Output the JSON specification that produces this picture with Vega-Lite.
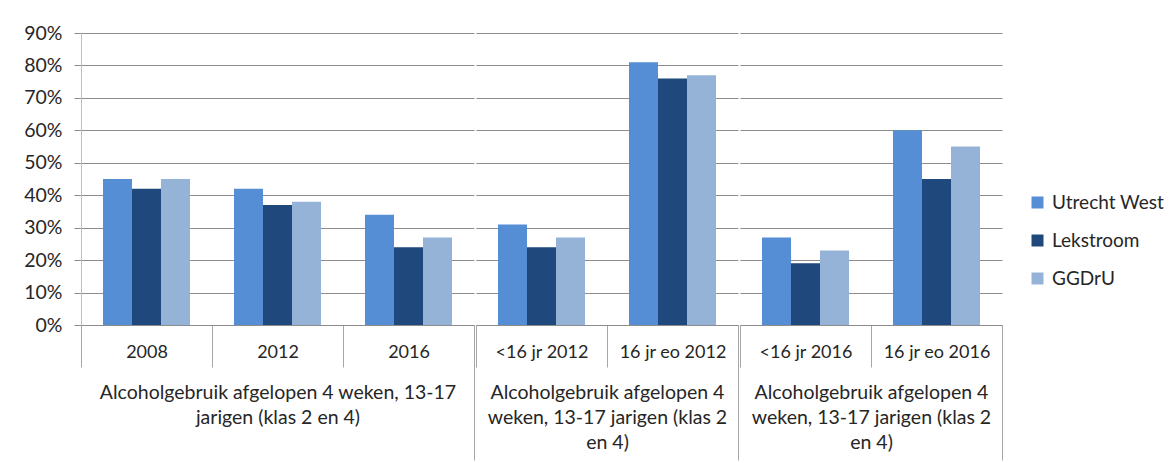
{
  "$schema": "https://vega.github.io/schema/vega-lite/v6.json",
  "padding": {"left": 23, "top": 23, "right": 0, "bottom": 0},
  "background": "white",
  "datasets": {
    "d": [
      {"groep": 1, "categorie": "2008", "regio": "Utrecht West", "waarde": 0.45},
      {"groep": 1, "categorie": "2008", "regio": "Lekstroom", "waarde": 0.42},
      {"groep": 1, "categorie": "2008", "regio": "GGDrU", "waarde": 0.45},
      {"groep": 1, "categorie": "2012", "regio": "Utrecht West", "waarde": 0.42},
      {"groep": 1, "categorie": "2012", "regio": "Lekstroom", "waarde": 0.37},
      {"groep": 1, "categorie": "2012", "regio": "GGDrU", "waarde": 0.38},
      {"groep": 1, "categorie": "2016", "regio": "Utrecht West", "waarde": 0.34},
      {"groep": 1, "categorie": "2016", "regio": "Lekstroom", "waarde": 0.24},
      {"groep": 1, "categorie": "2016", "regio": "GGDrU", "waarde": 0.27},
      {"groep": 2, "categorie": "<16 jr 2012", "regio": "Utrecht West", "waarde": 0.31},
      {"groep": 2, "categorie": "<16 jr 2012", "regio": "Lekstroom", "waarde": 0.24},
      {"groep": 2, "categorie": "<16 jr 2012", "regio": "GGDrU", "waarde": 0.27},
      {"groep": 2, "categorie": "16 jr eo 2012", "regio": "Utrecht West", "waarde": 0.81},
      {"groep": 2, "categorie": "16 jr eo 2012", "regio": "Lekstroom", "waarde": 0.76},
      {"groep": 2, "categorie": "16 jr eo 2012", "regio": "GGDrU", "waarde": 0.77},
      {"groep": 3, "categorie": "<16 jr 2016", "regio": "Utrecht West", "waarde": 0.27},
      {"groep": 3, "categorie": "<16 jr 2016", "regio": "Lekstroom", "waarde": 0.19},
      {"groep": 3, "categorie": "<16 jr 2016", "regio": "GGDrU", "waarde": 0.23},
      {"groep": 3, "categorie": "16 jr eo 2016", "regio": "Utrecht West", "waarde": 0.60},
      {"groep": 3, "categorie": "16 jr eo 2016", "regio": "Lekstroom", "waarde": 0.45},
      {"groep": 3, "categorie": "16 jr eo 2016", "regio": "GGDrU", "waarde": 0.55}
    ]
  },
  "spacing": 0,
  "resolve": {"scale": {"color": "shared", "y": "shared"}},
  "hconcat": [
    {
      "width": 393,
      "height": 292,
      "data": {"name": "d"},
      "transform": [{"filter": "datum.groep == 1"}],
      "mark": {"type": "bar"},
      "encoding": {
        "x": {
          "field": "categorie", "type": "nominal", "sort": null,
          "scale": {"paddingInner": 0, "paddingOuter": 0},
          "axis": {
            "title": ["Alcoholgebruik afgelopen 4 weken, 13-17", "jarigen (klas 2 en 4)"],
            "titleY": 58, "titleBaseline": "top",
            "tickSize": {"condition": {"test": "datum.index == 1", "value": 135}, "value": 42},
            "labelPadding": {"condition": {"test": "datum.index == 1", "value": -117}, "value": -24}
          }
        },
        "xOffset": {"field": "regio", "sort": ["Utrecht West", "Lekstroom", "GGDrU"], "scale": {"paddingInner": 0, "paddingOuter": 0.758}},
        "y": {
          "field": "waarde", "type": "quantitative",
          "scale": {"domain": [0, 0.9]},
          "axis": {"title": null, "format": ".0%", "values": [0, 0.1, 0.2, 0.3, 0.4, 0.5, 0.6, 0.7, 0.8, 0.9], "domain": true, "domainColor": "#bfbfbf", "ticks": true, "tickSize": 7, "tickColor": "#8c8c8c", "labelPadding": 12, "labelFontSize": 19.5, "grid": true}
        },
        "color": {
          "field": "regio", "type": "nominal", "sort": ["Utrecht West", "Lekstroom", "GGDrU"],
          "scale": {"range": ["#558ED5", "#1F497D", "#95B3D7"]},
          "legend": {"title": null, "orient": "none", "legendX": 947, "legendY": 160}
        }
      }
    },
    {
      "width": 262,
      "height": 292,
      "data": {"name": "d"},
      "transform": [{"filter": "datum.groep == 2"}],
      "mark": {"type": "bar"},
      "encoding": {
        "x": {
          "field": "categorie", "type": "nominal", "sort": null,
          "scale": {"paddingInner": 0, "paddingOuter": 0},
          "axis": {
            "title": ["Alcoholgebruik afgelopen 4", "weken, 13-17 jarigen (klas 2", "en 4)"],
            "titleY": 58, "titleBaseline": "top",
            "tickSize": {"condition": {"test": "datum.index == 1", "value": 135}, "value": 42},
            "labelPadding": {"condition": {"test": "datum.index == 1", "value": -117}, "value": -24}
          }
        },
        "xOffset": {"field": "regio", "sort": ["Utrecht West", "Lekstroom", "GGDrU"], "scale": {"paddingInner": 0, "paddingOuter": 0.758}},
        "y": {
          "field": "waarde", "type": "quantitative",
          "scale": {"domain": [0, 0.9]},
          "axis": {"title": null, "values": [0, 0.1, 0.2, 0.3, 0.4, 0.5, 0.6, 0.7, 0.8, 0.9], "labels": false, "ticks": false, "domain": false, "grid": true}
        },
        "color": {"field": "regio", "type": "nominal", "sort": ["Utrecht West", "Lekstroom", "GGDrU"]}
      }
    },
    {
      "width": 262,
      "height": 292,
      "data": {"name": "d"},
      "transform": [{"filter": "datum.groep == 3"}],
      "mark": {"type": "bar"},
      "encoding": {
        "x": {
          "field": "categorie", "type": "nominal", "sort": null,
          "scale": {"paddingInner": 0, "paddingOuter": 0},
          "axis": {
            "title": ["Alcoholgebruik afgelopen 4", "weken, 13-17 jarigen (klas 2", "en 4)"],
            "titleY": 58, "titleBaseline": "top",
            "tickSize": {"condition": {"test": "datum.index >= 0.5", "value": 135}, "value": 42},
            "labelPadding": {"condition": {"test": "datum.index >= 0.5", "value": -117}, "value": -24}
          }
        },
        "xOffset": {"field": "regio", "sort": ["Utrecht West", "Lekstroom", "GGDrU"], "scale": {"paddingInner": 0, "paddingOuter": 0.758}},
        "y": {
          "field": "waarde", "type": "quantitative",
          "scale": {"domain": [0, 0.9]},
          "axis": {"title": null, "values": [0, 0.1, 0.2, 0.3, 0.4, 0.5, 0.6, 0.7, 0.8, 0.9], "labels": false, "ticks": false, "domain": false, "grid": true}
        },
        "color": {"field": "regio", "type": "nominal", "sort": ["Utrecht West", "Lekstroom", "GGDrU"]}
      }
    }
  ],
  "config": {
    "font": "Lato",
    "view": {"stroke": null},
    "axis": {
      "labelFont": "Lato", "labelFontSize": 18, "labelColor": "#262626",
      "titleFont": "Lato", "titleFontSize": 19.5, "titleFontWeight": "normal", "titleColor": "#262626", "titleLineHeight": 25,
      "gridColor": "#8c8c8c", "gridOpacity": 1, "gridWidth": 1,
      "domainColor": "#8c8c8c", "tickColor": "#a6a6a6"
    },
    "axisX": {"labelAngle": 0, "tickBand": "extent", "grid": false, "domainColor": "#8c8c8c"},
    "legend": {"labelFont": "Lato", "labelFontSize": 19, "labelColor": "#262626", "symbolType": "square", "symbolSize": 144, "symbolStrokeWidth": 0, "rowPadding": 18, "labelOffset": 5, "labelLimit": 200}
  }
}
